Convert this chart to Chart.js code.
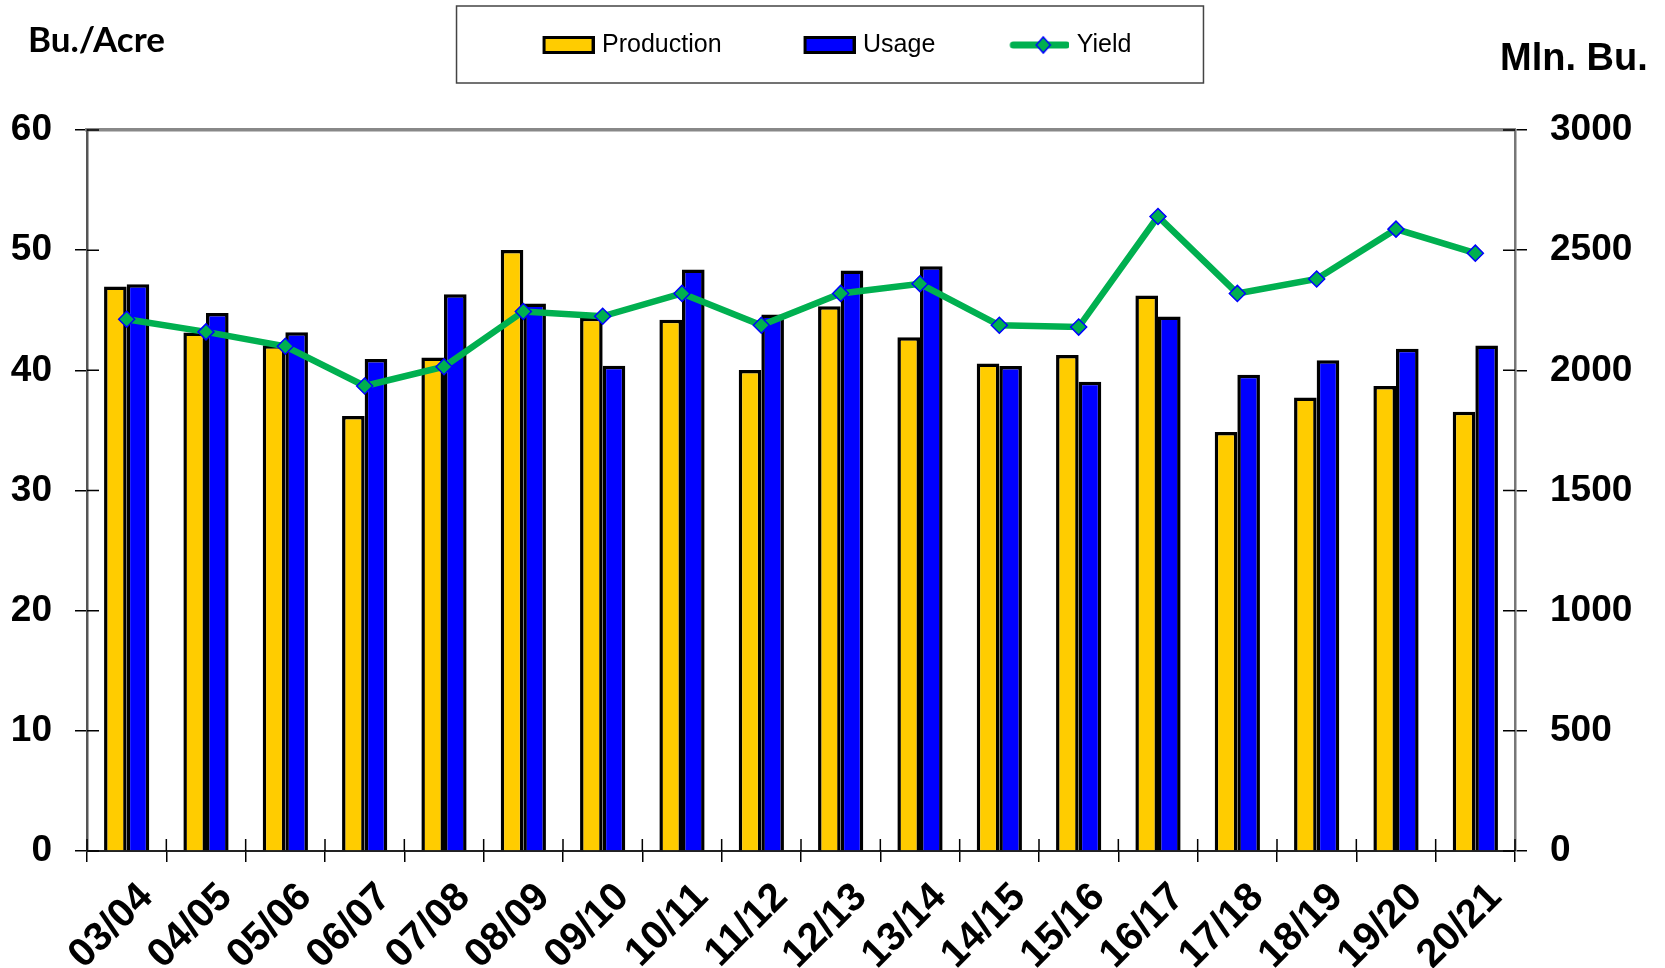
<!DOCTYPE html>
<html>
<head>
<meta charset="utf-8">
<script src="https://cdn.jsdelivr.net/npm/chart.js@4.4.1/dist/chart.umd.min.js"></script>
<style>
  html, body { margin: 0; padding: 0; background: #fff; }
  #wrap { width: 1665px; height: 968px; position: relative; }
</style>
</head>
<body>
<div id="wrap"><canvas id="c"></canvas></div>
<script>
// ---- data ----
const categories = ['03/04','04/05','05/06','06/07','07/08','08/09','09/10','10/11','11/12','12/13','13/14','14/15','15/16','16/17','17/18','18/19','19/20','20/21'];
const production = [2349, 2157, 2104, 1810, 2053, 2501, 2219, 2210, 2001, 2267, 2138, 2028, 2064, 2311, 1743, 1887, 1935, 1828];
const usage      = [2358, 2239, 2158, 2047, 2317, 2278, 2019, 2420, 2232, 2415, 2433, 2018, 1953, 2224, 1982, 2042, 2090, 2103];
const yieldData  = [44.25, 43.2, 42.0, 38.7, 40.3, 44.9, 44.5, 46.4, 43.75, 46.4, 47.2, 43.75, 43.6, 52.8, 46.4, 47.6, 51.75, 49.75];
const seriesNames = ['Production', 'Usage', 'Yield'];
const leftTitle = 'Bu./Acre';
const rightTitle = 'Mln. Bu.';
const leftTicks = { min: 0, max: 60, step: 10 };
const rightTicks = { min: 0, max: 3000, step: 500 };

const FONT = '"Liberation Sans", Arial, sans-serif';
const YELLOW = '#FFCC00', BLUE = '#0000FF', GREEN = '#00B050';

// legend swatch images (transparent left margin gives the spacing between entries)
const MARGIN = 77, SW = 52, IMG_W = MARGIN + SW, IMG_H = 20;
function swatch(fill) {
  const c = document.createElement('canvas');
  c.width = IMG_W; c.height = IMG_H;
  const g = c.getContext('2d');
  g.fillStyle = fill; g.strokeStyle = '#000'; g.lineWidth = 3;
  g.fillRect(MARGIN + 1.5, 2.5, SW - 3, IMG_H - 5);
  g.strokeRect(MARGIN + 1.5, 2.5, SW - 3, IMG_H - 5);
  return c;
}
function lineSwatch() {
  const c = document.createElement('canvas');
  c.width = IMG_W; c.height = IMG_H;
  const g = c.getContext('2d');
  const cy = IMG_H / 2, cx = MARGIN + SW / 2;
  g.strokeStyle = GREEN; g.lineWidth = 7; g.lineCap = 'round';
  g.beginPath(); g.moveTo(MARGIN - 4, cy); g.lineTo(IMG_W - 3, cy); g.stroke();
  g.fillStyle = GREEN; g.strokeStyle = BLUE; g.lineWidth = 1.5;
  g.beginPath(); g.moveTo(cx, cy - 8); g.lineTo(cx + 7, cy); g.lineTo(cx, cy + 8); g.lineTo(cx - 7, cy); g.closePath();
  g.fill(); g.stroke();
  return c;
}
const legendImgs = [swatch(YELLOW), swatch(BLUE), lineSwatch()];

const decor = {
  id: 'decor',
  beforeDatasetsDraw(chart) {
    const { ctx, chartArea, scales } = chart;
    const L = 12;
    ctx.save();
    ctx.strokeStyle = '#000'; ctx.lineWidth = 1.5;
    ctx.beginPath();
    scales.yL.ticks.forEach((t, i) => {
      const y = scales.yL.getPixelForTick(i);
      ctx.moveTo(chartArea.left, y); ctx.lineTo(chartArea.left + L, y);
    });
    scales.yR.ticks.forEach((t, i) => {
      const y = scales.yR.getPixelForTick(i);
      ctx.moveTo(chartArea.right - L, y); ctx.lineTo(chartArea.right, y);
    });
    for (let i = 0; i <= categories.length; i++) {
      const x = scales.x.getPixelForValue(i - 0.5);
      ctx.moveTo(x, chartArea.bottom - L); ctx.lineTo(x, chartArea.bottom);
    }
    ctx.stroke();
    ctx.restore();
  },
  afterDraw(chart) {
    const { ctx } = chart;
    ctx.save();
    ctx.fillStyle = '#000';
    ctx.textBaseline = 'middle';
    ctx.textAlign = 'left';
    ctx.font = 'bold 35px Lato, "Open Sans", sans-serif';
    ctx.fillText(leftTitle, 28, 41);
    ctx.font = 'bold 38px ' + FONT;
    ctx.fillText(rightTitle, 1500, 60);
    // legend frame
    const lg = chart.legend;
    if (lg && lg.legendHitBoxes && lg.legendHitBoxes.length) {
      const hb = lg.legendHitBoxes;
      const first = hb[0], last = hb[hb.length - 1];
      const x1 = first.left + (MARGIN - 5) - 86;
      const x2 = last.left + last.width + 72;
      ctx.strokeStyle = '#444'; ctx.lineWidth = 1.5;
      ctx.strokeRect(x1, lg.top + 6, x2 - x1, 77);
    }
    ctx.restore();
  }
};

new Chart(document.getElementById('c'), {
  type: 'bar',
  data: {
    labels: categories,
    datasets: [
      { label: seriesNames[0], data: production, yAxisID: 'yR', backgroundColor: YELLOW, borderColor: '#000', borderWidth: 3.5, borderSkipped: 'start', order: 1 },
      { label: seriesNames[1], data: usage, yAxisID: 'yR', backgroundColor: BLUE, borderColor: '#000', borderWidth: 3.5, borderSkipped: 'start', order: 1 },
      { type: 'line', label: seriesNames[2], data: yieldData, yAxisID: 'yL', borderColor: GREEN, borderWidth: 6.5, tension: 0,
        pointStyle: 'rectRot', pointRadius: 8, pointHoverRadius: 8, pointBackgroundColor: GREEN, pointBorderColor: BLUE, pointBorderWidth: 1.5, order: 0 }
    ]
  },
  options: {
    responsive: true,
    maintainAspectRatio: false,
    animation: false,
    devicePixelRatio: 1,
    layout: { padding: 0 },
    datasets: { bar: { categoryPercentage: 0.57, barPercentage: 1.0 } },
    plugins: {
      tooltip: { enabled: false },
      legend: {
        position: 'top',
        fullSize: false,
        title: { display: true, text: ' ', padding: 0, font: { size: 15, lineHeight: 1.5 } },
        labels: {
          font: { family: FONT, size: 25 },
          color: '#000',
          usePointStyle: true,
          pointStyleWidth: IMG_W - 10,
          boxHeight: 20,
          padding: 10,
          generateLabels: (chart) => seriesNames.map((n, i) => ({
            text: n, datasetIndex: i, pointStyle: legendImgs[i], fillStyle: 'transparent', strokeStyle: 'transparent', lineWidth: 0, hidden: false, fontColor: '#000'
          }))
        }
      }
    },
    scales: {
      x: {
        type: 'category', position: 'bottom', offset: true,
        grid: { offset: true, drawOnChartArea: false, drawTicks: true, tickLength: 11, color: '#000', lineWidth: 1.5 },
        border: { display: true, color: '#222', width: 2 },
        ticks: { autoSkip: false, maxRotation: 45, minRotation: 45, color: '#000', font: { family: FONT, size: 40, weight: 'bold' }, padding: 12, labelOffset: 20 },
        afterFit: (s) => { s.height = 117; }
      },
      x2: {
        type: 'category', position: 'top', offset: true,
        grid: { display: false },
        border: { display: true, color: '#888', width: 3.5 },
        ticks: { display: false },
        afterFit: (s) => { s.height = 62.5; }
      },
      yL: {
        type: 'linear', position: 'left', min: leftTicks.min, max: leftTicks.max,
        ticks: { stepSize: leftTicks.step, color: '#000', font: { family: FONT, size: 37, weight: 'bold' }, padding: 23, callback: (v) => String(v) },
        grid: { drawOnChartArea: false, drawTicks: true, tickLength: 12, color: '#000', lineWidth: 1.5 },
        border: { display: true, color: '#555', width: 2.5 },
        afterFit: (s) => { s.width = 87; }
      },
      yR: {
        type: 'linear', position: 'right', min: rightTicks.min, max: rightTicks.max,
        ticks: { stepSize: rightTicks.step, color: '#000', font: { family: FONT, size: 37, weight: 'bold' }, padding: 23, callback: (v) => String(v) },
        grid: { drawOnChartArea: false, drawTicks: true, tickLength: 12, color: '#000', lineWidth: 1.5 },
        border: { display: true, color: '#777', width: 2.5 },
        afterFit: (s) => { s.width = 150; }
      }
    }
  },
  plugins: [decor]
});
</script>
</body>
</html>
